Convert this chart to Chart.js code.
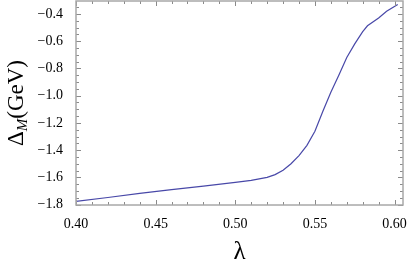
<!DOCTYPE html>
<html>
<head>
<meta charset="UTF-8">
<title>Delta_M vs lambda</title>
<script src="https://cdn.jsdelivr.net/npm/chart.js"></script>
<style>
  html, body { margin: 0; padding: 0; background: #fff; }
  #wrap { width: 407px; height: 267px; position: relative; }
</style>
</head>
<body>
<div id="wrap"><canvas id="grafico"></canvas></div>
<script>
// data
const lambdaVals = [0.400, 0.420, 0.440, 0.460, 0.480, 0.500, 0.510, 0.520, 0.525, 0.530,
                    0.535, 0.540, 0.545, 0.550, 0.555, 0.560, 0.565, 0.570, 0.575, 0.580,
                    0.583, 0.590, 0.595, 0.602];
const deltaM = [-1.777, -1.748, -1.718, -1.690, -1.664, -1.637, -1.622, -1.600, -1.580, -1.548,
                -1.500, -1.440, -1.365, -1.262, -1.115, -0.975, -0.850, -0.720, -0.620, -0.530,
                -0.487, -0.430, -0.380, -0.330];
const xTicks = [0.40, 0.45, 0.50, 0.55, 0.60];
const yTicks = [-1.8, -1.6, -1.4, -1.2, -1.0, -0.8, -0.6, -0.4];
const xMinorStep = 0.01;
const yMinorStep = 0.05;

const serif = '"Liberation Serif", "DejaVu Serif", serif';
const minus = s => s.replace('-', '\u2212');

// frame, inward ticks and y-axis title
const framePlugin = {
  id: 'frame',
  afterDraw(chart) {
    const ctx = chart.ctx, a = chart.chartArea;
    const xs = chart.scales.x, ys = chart.scales.y;
    ctx.save();
    ctx.strokeStyle = '#8a8a8a';
    ctx.lineWidth = 1;
    const tick = (x1, y1, x2, y2) => { ctx.beginPath(); ctx.moveTo(x1, y1); ctx.lineTo(x2, y2); ctx.stroke(); };
    // ticks on all four sides, pointing inward
    const nx = Math.round((xs.max - xTicks[0]) / xMinorStep);
    for (let i = 0; i <= nx; i++) {
      const v = xTicks[0] + i * xMinorStep;
      if (v > xs.max) break;
      const len = i % 5 === 0 ? 5 : 3;
      const px = Math.round(xs.getPixelForValue(v)) + 0.5;
      tick(px, a.bottom, px, a.bottom - len);
      tick(px, a.top, px, a.top + len);
    }
    const ny = Math.round((ys.max - yTicks[0]) / yMinorStep);
    for (let i = 0; i <= ny; i++) {
      const v = yTicks[0] + i * yMinorStep;
      if (v > ys.max) break;
      const len = i % 4 === 0 ? 5 : 3;
      const py = Math.round(ys.getPixelForValue(v)) + 0.5;
      tick(a.left, py, a.left + len, py);
      tick(a.right, py, a.right - len, py);
    }
    // frame
    ctx.strokeStyle = '#a8a8a8';
    ctx.lineWidth = 1.5;
    ctx.strokeRect(a.left, a.top, a.right - a.left, a.bottom - a.top);

    // y title: Delta_M(GeV)
    ctx.fillStyle = '#000';
    ctx.translate(23, (a.top + a.bottom) / 2);
    ctx.rotate(-Math.PI / 2);
    ctx.textBaseline = 'alphabetic';
    const big = '23px ' + serif;
    const sub = 'italic 15px ' + serif;
    ctx.font = big; const w1 = ctx.measureText('\u0394').width;
    ctx.font = sub; const w2 = ctx.measureText('M').width;
    ctx.font = big; const w3 = ctx.measureText('(GeV)').width;
    const x0 = -(w1 + w2 + w3) / 2;
    ctx.font = big; ctx.fillText('\u0394', x0, 0);
    ctx.font = sub; ctx.fillText('M', x0 + w1, 4);
    ctx.font = big; ctx.fillText('(GeV)', x0 + w1 + w2, 0);
    ctx.restore();
  }
};

const ctx = document.getElementById('grafico').getContext('2d');
new Chart(ctx, {
  type: 'line',
  data: {
    datasets: [{
      data: lambdaVals.map((x, i) => ({ x: x, y: deltaM[i] })),
      borderColor: '#4848a8',
      borderWidth: 1.2,
      pointRadius: 0,
      tension: 0,
      fill: false
    }]
  },
  options: {
    responsive: true,
    maintainAspectRatio: false,
    animation: false,
    layout: { padding: { top: 1, right: 4, left: 0, bottom: 0 } },
    plugins: { legend: { display: false }, tooltip: { enabled: false } },
    scales: {
      x: {
        type: 'linear',
        min: 0.40,
        max: 0.6053,
        afterBuildTicks: s => { s.ticks = xTicks.map(v => ({ value: v })); },
        afterFit: s => { s.height = 62; s.paddingLeft = 0; s.paddingRight = 0; },
        grid: { display: false },
        border: { display: false },
        ticks: {
          color: '#000',
          font: { family: serif, size: 14 },
          padding: 3,
          maxRotation: 0,
          callback: v => v.toFixed(2)
        },
        title: {
          display: true,
          text: '\u03bb',
          color: '#000',
          font: { family: serif, size: 25 },
          padding: { top: 5, bottom: 0 }
        }
      },
      y: {
        type: 'linear',
        min: -1.803,
        max: -0.305,
        afterBuildTicks: s => { s.ticks = yTicks.map(v => ({ value: v })); },
        afterFit: s => { s.width = 76; s.paddingTop = 0; s.paddingBottom = 0; },
        grid: { display: false },
        border: { display: false },
        ticks: {
          color: '#000',
          font: { family: serif, size: 14 },
          padding: 5,
          callback: v => minus(v.toFixed(1))
        }
      }
    }
  },
  plugins: [framePlugin]
});
</script>
</body>
</html>
